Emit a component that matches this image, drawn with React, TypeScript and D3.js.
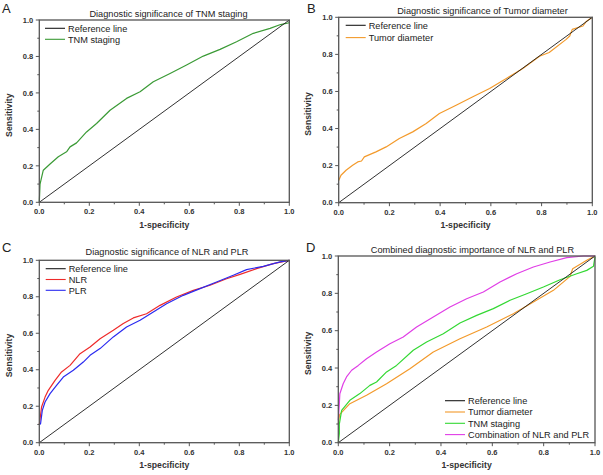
import React from "react";
import * as d3 from "d3";

type P = [number, number];

const tickLabels = ["0.0", "0.2", "0.4", "0.6", "0.8", "1.0"];
const majorTicks = [0, 0.2, 0.4, 0.6, 0.8, 1.0];
const minorTicks = [0.1, 0.3, 0.5, 0.7, 0.9];
const refLine: P[] = [[0, 0], [1, 1]];

const tnmA: P[] = [
  [0, 0], [0.003, 0.1], [0.008, 0.13], [0.016, 0.176], [0.043, 0.21], [0.076, 0.25], [0.109, 0.277],
  [0.123, 0.304], [0.149, 0.326], [0.189, 0.386], [0.229, 0.432], [0.283, 0.505], [0.349, 0.57],
  [0.403, 0.606], [0.456, 0.661], [0.523, 0.707], [0.589, 0.753], [0.656, 0.802], [0.723, 0.839],
  [0.789, 0.881], [0.856, 0.927], [0.923, 0.954], [0.965, 0.975], [1.0, 0.985], [1.0, 1.0],
];

const tumorB: P[] = [
  [0, 0.12], [0.009, 0.148], [0.029, 0.175], [0.055, 0.202], [0.075, 0.22], [0.09, 0.225], [0.101, 0.247],
  [0.147, 0.274], [0.187, 0.301], [0.239, 0.346], [0.292, 0.382], [0.345, 0.427], [0.397, 0.481],
  [0.463, 0.526], [0.529, 0.571], [0.595, 0.616], [0.661, 0.67], [0.726, 0.724], [0.792, 0.79],
  [0.83, 0.81], [0.897, 0.881], [0.911, 0.899], [0.921, 0.935], [0.963, 0.953], [0.976, 0.977], [1, 1],
];

const nlrC: P[] = [
  [0, 0.1], [0.003, 0.13], [0.009, 0.196], [0.023, 0.25], [0.036, 0.287], [0.063, 0.342], [0.089, 0.388],
  [0.123, 0.424], [0.163, 0.488], [0.203, 0.525], [0.243, 0.57], [0.296, 0.616], [0.336, 0.653],
  [0.376, 0.684], [0.429, 0.707], [0.483, 0.753], [0.549, 0.799], [0.616, 0.835], [0.683, 0.863],
  [0.749, 0.899], [0.803, 0.923], [0.869, 0.954], [0.936, 0.982], [1, 1],
];

const plrC: P[] = [
  [0, 0.099], [0.005, 0.104], [0.012, 0.177], [0.023, 0.223], [0.043, 0.269], [0.069, 0.314],
  [0.096, 0.36], [0.136, 0.397], [0.176, 0.442], [0.203, 0.479], [0.243, 0.516], [0.296, 0.58],
  [0.349, 0.634], [0.403, 0.671], [0.456, 0.717], [0.509, 0.762], [0.576, 0.808], [0.643, 0.845],
  [0.709, 0.881], [0.776, 0.918], [0.829, 0.949], [0.896, 0.967], [0.963, 0.991], [1, 1],
];

const tumorD: P[] = [
  [0, 0.1], [0.005, 0.15], [0.045, 0.209], [0.11, 0.254], [0.188, 0.316], [0.279, 0.396], [0.37, 0.486],
  [0.474, 0.557], [0.578, 0.62], [0.682, 0.691], [0.76, 0.754], [0.838, 0.816], [0.903, 0.891],
  [0.913, 0.932], [0.968, 0.977], [1, 1],
];

const tnmD: P[] = [
  [0, 0], [0.004, 0.048], [0.004, 0.1], [0.013, 0.173], [0.045, 0.227], [0.084, 0.263], [0.123, 0.307],
  [0.149, 0.325], [0.188, 0.379], [0.227, 0.414], [0.292, 0.495], [0.344, 0.539], [0.409, 0.584],
  [0.474, 0.641], [0.539, 0.682], [0.604, 0.718], [0.669, 0.763], [0.734, 0.798], [0.799, 0.834],
  [0.864, 0.873], [0.929, 0.905], [0.968, 0.923], [0.994, 0.945], [1, 0.995],
];

const comboD: P[] = [
  [0, 0.12], [0.004, 0.209], [0.006, 0.262], [0.019, 0.316], [0.032, 0.352], [0.052, 0.388],
  [0.078, 0.414], [0.11, 0.45], [0.149, 0.486], [0.201, 0.53], [0.253, 0.566], [0.305, 0.62],
  [0.37, 0.673], [0.435, 0.727], [0.5, 0.771], [0.565, 0.807], [0.63, 0.861], [0.695, 0.905],
  [0.76, 0.941], [0.825, 0.968], [0.89, 0.991], [0.955, 1], [1, 1],
];

const FONT = "'Liberation Sans', Arial, Helvetica, sans-serif";

interface Series { name: string; data: P[]; color: string; }
interface Panel {
  letter: string; lx: number; ly: number;
  l: number; r: number; t: number; b: number;
  title: string; tx: number; ty: number;
  series: Series[];
  legX: number; legY: number; legStep: number;
}

const REF: Series = { name: "Reference line", data: refLine, color: "#1a1a1a" };

const panels: Panel[] = [
  {
    letter: "A", lx: 2, ly: 12.5, l: 39.3, r: 289.3, t: 20, b: 202.3,
    title: "Diagnostic significance of TNM staging", tx: 168.5, ty: 16.5,
    series: [REF, { name: "TNM staging", data: tnmA, color: "#3a9a35" }],
    legX: 45, legY: 28.3, legStep: 11,
  },
  {
    letter: "B", lx: 307, ly: 12.5, l: 338.7, r: 592.3, t: 17.3, b: 202.7,
    title: "Diagnostic significance of Tumor diameter", tx: 482.5, ty: 13.5,
    series: [REF, { name: "Tumor diameter", data: tumorB, color: "#f39a2b" }],
    legX: 345.7, legY: 25.3, legStep: 12.3,
  },
  {
    letter: "C", lx: 2, ly: 251.5, l: 39.3, r: 289.3, t: 260.3, b: 442.7,
    title: "Diagnostic significance of NLR and PLR", tx: 167, ty: 255.3,
    series: [REF, { name: "NLR", data: nlrC, color: "#ee2a2a" }, { name: "PLR", data: plrC, color: "#2a2af0" }],
    legX: 45.7, legY: 268.7, legStep: 10.8,
  },
  {
    letter: "D", lx: 306, ly: 251.5, l: 338.3, r: 595, t: 256, b: 442.7,
    title: "Combined diagnostic importance of NLR and PLR", tx: 472.5, ty: 252.5,
    series: [
      REF,
      { name: "Tumor diameter", data: tumorD, color: "#f39a2b" },
      { name: "TNM staging", data: tnmD, color: "#33d833" },
      { name: "Combination of NLR and PLR", data: comboD, color: "#e03ee6" },
    ],
    legX: 445, legY: 400.7, legStep: 11.3,
  },
];

function PanelView({ p }: { p: Panel }) {
  const x = d3.scaleLinear().domain([0, 1]).range([p.l, p.r]);
  const y = d3.scaleLinear().domain([0, 1]).range([p.b, p.t]);
  const line = d3.line<P>().x((d) => x(d[0])).y((d) => y(d[1]));
  const axisColor = "#555";
  const drawOrder = [...p.series.slice(1), p.series[0]];
  return (
    <g>
      <text x={p.lx} y={p.ly} fontSize={13} fontFamily={FONT} fill="#222">{p.letter}</text>
      <text x={p.tx} y={p.ty} fontSize={9.2} fontFamily={FONT} textAnchor="middle" fill="#222">{p.title}</text>
      {drawOrder.map((s, i) => (
        <path key={i} d={line(s.data) || ""} fill="none" stroke={s.color} strokeWidth={s === REF ? 0.9 : 1.2} strokeLinejoin="round" />
      ))}
      <rect x={p.l} y={p.t} width={p.r - p.l} height={p.b - p.t} fill="none" stroke={axisColor} strokeWidth={1.3} />
      {majorTicks.map((v, i) => (
        <g key={"mx" + i}>
          <line x1={x(v)} x2={x(v)} y1={p.b} y2={p.b + 3.5} stroke={axisColor} strokeWidth={1} />
          <text x={x(v)} y={p.b + 12} fontSize={7.5} fontWeight="bold" fontFamily={FONT} textAnchor="middle" fill="#333">{tickLabels[i]}</text>
          <line x1={p.l} x2={p.l - 3.5} y1={y(v)} y2={y(v)} stroke={axisColor} strokeWidth={1} />
          <text x={p.l - 6} y={y(v) + 2.7} fontSize={7.5} fontWeight="bold" fontFamily={FONT} textAnchor="end" fill="#333">{tickLabels[i]}</text>
        </g>
      ))}
      {minorTicks.map((v, i) => (
        <g key={"mn" + i}>
          <line x1={x(v)} x2={x(v)} y1={p.b} y2={p.b + 2} stroke={axisColor} strokeWidth={1} />
          <line x1={p.l} x2={p.l - 2} y1={y(v)} y2={y(v)} stroke={axisColor} strokeWidth={1} />
        </g>
      ))}
      <text x={(p.l + p.r) / 2} y={p.b + 25.5} fontSize={8.7} fontWeight="bold" fontFamily={FONT} textAnchor="middle" fill="#333">1-specificity</text>
      <text transform={`translate(${p.l - 27.5},${(p.t + p.b) / 2 + 4}) rotate(-90)`} fontSize={8.7} fontWeight="bold" fontFamily={FONT} textAnchor="middle" fill="#333">Sensitivity</text>
      {p.series.map((s, i) => {
        const yy = p.legY + i * p.legStep;
        return (
          <g key={"lg" + i}>
            <line x1={p.legX} x2={p.legX + 20} y1={yy} y2={yy} stroke={s.color} strokeWidth={1.1} />
            <text x={p.legX + 23} y={yy + 3.2} fontSize={9.2} fontFamily={FONT} fill="#222">{s.name}</text>
          </g>
        );
      })}
    </g>
  );
}

export default function App() {
  return (
    <svg width={603} height={475} style={{ position: "absolute", left: 0, top: 0, background: "#fff" }}>
      <rect width={603} height={475} fill="#fff" />
      {panels.map((p) => <PanelView key={p.letter} p={p} />)}
    </svg>
  );
}
